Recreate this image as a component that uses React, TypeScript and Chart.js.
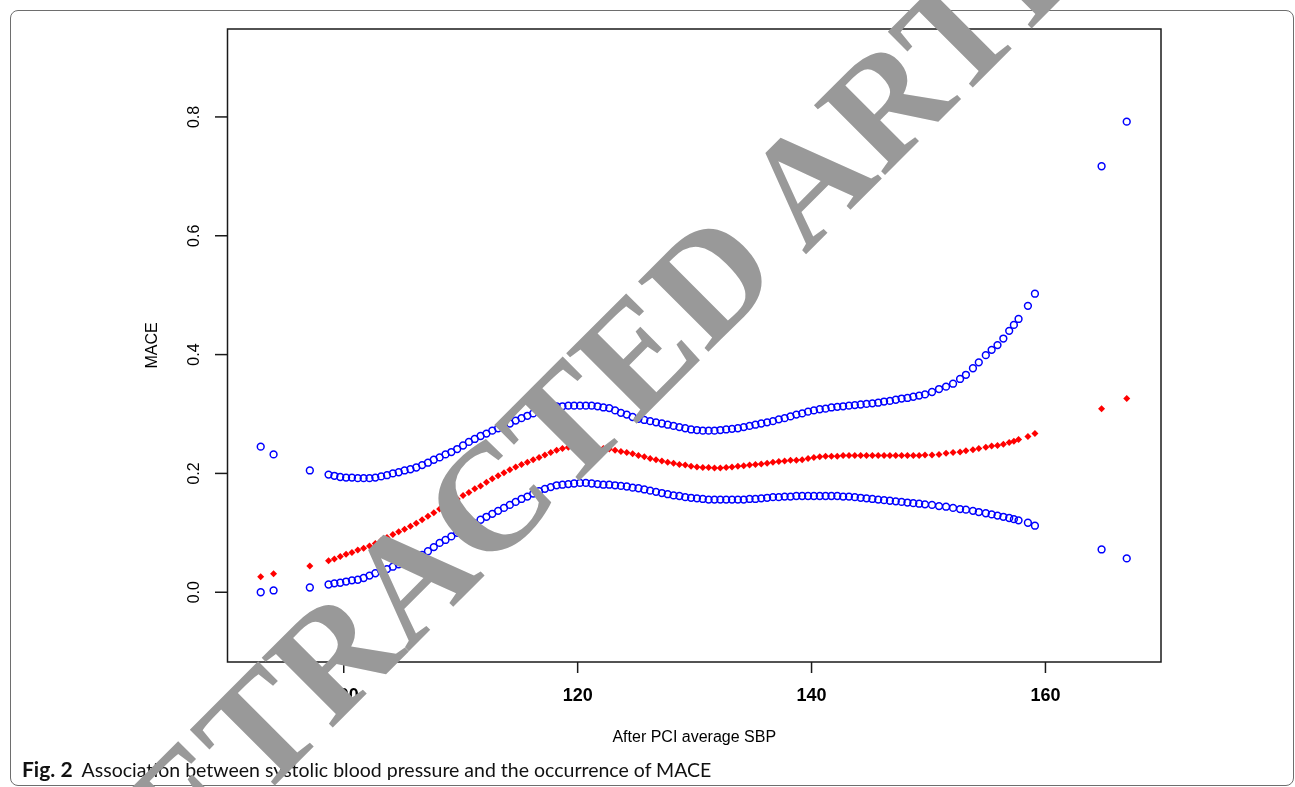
import React, { useEffect, useRef } from "react";
import { Chart, registerables } from "chart.js";

Chart.register(...registerables);

// ---- data ----
const SBP = [
  92.9, 94.0, 97.1,
  98.7, 99.2, 99.7, 100.2, 100.7, 101.2, 101.7, 102.2, 102.7, 103.2,
  103.7, 104.2, 104.7, 105.2, 105.7, 106.2, 106.7, 107.2, 107.7, 108.2,
  108.7, 109.2, 109.7, 110.2, 110.7, 111.2, 111.7, 112.2, 112.7, 113.2,
  113.7, 114.2, 114.7, 115.2, 115.7, 116.2, 116.7, 117.2, 117.7, 118.2,
  118.7, 119.2, 119.7, 120.2, 120.7, 121.2, 121.7, 122.2, 122.7, 123.2,
  123.7, 124.2, 124.7, 125.2, 125.7, 126.2, 126.7, 127.2, 127.7, 128.2,
  128.7, 129.2, 129.7, 130.2, 130.7, 131.2, 131.7, 132.2, 132.7, 133.2,
  133.7, 134.2, 134.7, 135.2, 135.7, 136.2, 136.7, 137.2, 137.7, 138.2,
  138.7, 139.2, 139.7, 140.2, 140.7, 141.2, 141.7, 142.2, 142.7, 143.2,
  143.7, 144.2, 144.7, 145.2, 145.7, 146.2, 146.7, 147.2, 147.7, 148.2,
  148.7, 149.2, 149.7,
  150.3, 150.9, 151.5, 152.1, 152.7, 153.2, 153.8, 154.3, 154.9, 155.4,
  155.9, 156.4, 156.9, 157.3, 157.7, 158.5, 159.1,
  164.8, 166.95,
];

const UPPER = [
  0.245, 0.232, 0.205,
  0.198, 0.196, 0.194, 0.193, 0.193, 0.192, 0.192, 0.192, 0.193, 0.195,
  0.197, 0.200, 0.202, 0.205, 0.207, 0.210, 0.214, 0.218, 0.223, 0.227,
  0.232, 0.236, 0.241, 0.247, 0.253, 0.258, 0.263, 0.267, 0.272, 0.276,
  0.280, 0.284, 0.289, 0.293, 0.297, 0.301, 0.305, 0.308, 0.311, 0.313,
  0.313, 0.314, 0.314, 0.314, 0.314, 0.314, 0.313, 0.311, 0.310, 0.306,
  0.302, 0.299, 0.295, 0.292, 0.290, 0.288, 0.286, 0.284, 0.282, 0.280,
  0.278, 0.276, 0.274, 0.273, 0.272, 0.272, 0.272, 0.273, 0.274, 0.275,
  0.276, 0.278, 0.280, 0.282, 0.284, 0.286, 0.288, 0.291, 0.293, 0.296,
  0.299, 0.301, 0.304, 0.306, 0.308, 0.309, 0.311, 0.312, 0.313, 0.314,
  0.315, 0.316, 0.317, 0.318, 0.319, 0.321, 0.322, 0.324, 0.326, 0.327,
  0.329, 0.331, 0.333,
  0.337, 0.342, 0.346, 0.351, 0.359, 0.366, 0.377, 0.387, 0.399, 0.408,
  0.416, 0.427, 0.440, 0.450, 0.460, 0.482, 0.5025,
  0.717, 0.792,
];

const FIT = [
  0.026, 0.031, 0.044,
  0.053, 0.056, 0.060, 0.064, 0.067, 0.071, 0.074, 0.078, 0.082, 0.087,
  0.092, 0.097, 0.102, 0.106, 0.111, 0.116, 0.122, 0.128, 0.134, 0.140,
  0.146, 0.152, 0.157, 0.163, 0.168, 0.174, 0.179, 0.185, 0.191, 0.196,
  0.201, 0.206, 0.211, 0.215, 0.219, 0.223, 0.227, 0.231, 0.235, 0.239,
  0.242, 0.244, 0.245, 0.245, 0.244, 0.244, 0.243, 0.242, 0.241, 0.239,
  0.237, 0.235, 0.233, 0.230, 0.228, 0.225, 0.223, 0.221, 0.219, 0.217,
  0.215, 0.214, 0.212, 0.211, 0.210, 0.210, 0.209, 0.209, 0.210, 0.211,
  0.212, 0.213, 0.214, 0.215, 0.216, 0.217, 0.219, 0.220, 0.221, 0.222,
  0.222, 0.223, 0.225, 0.227, 0.228, 0.229, 0.229, 0.229, 0.230, 0.230,
  0.230, 0.230, 0.230, 0.230, 0.230, 0.230, 0.230, 0.230, 0.230, 0.230,
  0.230, 0.230, 0.231,
  0.231, 0.232, 0.234, 0.235, 0.236, 0.238, 0.240, 0.242, 0.244, 0.246,
  0.247, 0.249, 0.252, 0.254, 0.257, 0.262, 0.267,
  0.309, 0.326,
];

const LOWER = [
  0.000, 0.003, 0.008,
  0.013, 0.015, 0.016, 0.018, 0.020, 0.021, 0.024, 0.028, 0.032, 0.036,
  0.039, 0.043, 0.047, 0.050, 0.054, 0.058, 0.063, 0.069, 0.076, 0.083,
  0.088, 0.094, 0.100, 0.105, 0.111, 0.116, 0.122, 0.127, 0.132, 0.137,
  0.142, 0.147, 0.152, 0.157, 0.161, 0.166, 0.170, 0.174, 0.177, 0.180,
  0.181, 0.182, 0.183, 0.184, 0.184, 0.183, 0.182, 0.181, 0.181, 0.180,
  0.179, 0.178, 0.176, 0.175, 0.173, 0.171, 0.169, 0.167, 0.165, 0.163,
  0.162, 0.160, 0.159, 0.158, 0.157, 0.156, 0.156, 0.156, 0.156, 0.156,
  0.156, 0.156, 0.157, 0.157, 0.158, 0.159, 0.160, 0.160, 0.161, 0.161,
  0.162, 0.162, 0.162, 0.162, 0.162, 0.162, 0.162, 0.162, 0.161, 0.161,
  0.160, 0.159, 0.158, 0.157, 0.156, 0.155, 0.154, 0.153, 0.152, 0.151,
  0.150, 0.149, 0.148,
  0.147, 0.145, 0.144, 0.142, 0.140, 0.139, 0.137, 0.135, 0.133, 0.131,
  0.129, 0.127, 0.125, 0.123, 0.121, 0.117, 0.112,
  0.072, 0.057,
];

const X_TICKS = [100, 120, 140, 160];
const Y_TICKS = [0.0, 0.2, 0.4, 0.6, 0.8];
const X_RANGE = [90.06, 169.88];
const Y_RANGE = [-0.1174, 0.948];
const X_TITLE = "After PCI average SBP";
const Y_TITLE = "MACE";
const FIG_LABEL = "Fig. 2";
const FIG_CAPTION = "Association between systolic blood pressure and the occurrence of MACE";
const WATERMARK = "RETRACTED ARTICLE";

const W = 1295;
const H = 787;

export default function App() {
  const canvasRef = useRef<HTMLCanvasElement | null>(null);

  useEffect(() => {
    const canvas = canvasRef.current;
    if (!canvas) return;
    const pts = (ys: number[]) => SBP.map((x, i) => ({ x, y: ys[i] }));

    const rAxes = {
      id: "rAxes",
      afterDraw(chart: any) {
        const { ctx, chartArea: a, scales } = chart;
        const xs = scales.x;
        const ys = scales.y;
        ctx.save();
        ctx.strokeStyle = "#1a1a1a";
        ctx.lineWidth = 1.5;
        ctx.strokeRect(a.left, a.top, a.right - a.left, a.bottom - a.top);
        ctx.fillStyle = "#000";
        ctx.textAlign = "center";
        ctx.textBaseline = "middle";
        ctx.font = 'bold 18px "Liberation Sans", Arial, sans-serif';
        for (const v of X_TICKS) {
          const px = xs.getPixelForValue(v);
          ctx.beginPath();
          ctx.moveTo(px, a.bottom);
          ctx.lineTo(px, a.bottom + 11);
          ctx.stroke();
          ctx.fillText(String(v), px, a.bottom + 34);
        }
        ctx.font = '16px "Liberation Sans", Arial, sans-serif';
        for (const v of Y_TICKS) {
          const py = ys.getPixelForValue(v);
          ctx.beginPath();
          ctx.moveTo(a.left - 12.5, py);
          ctx.lineTo(a.left, py);
          ctx.stroke();
          ctx.save();
          ctx.translate(a.left - 33, py);
          ctx.rotate(-Math.PI / 2);
          ctx.fillText(v.toFixed(1), 0, 0);
          ctx.restore();
        }
        ctx.font = '16px "Liberation Sans", Arial, sans-serif';
        ctx.fillText(X_TITLE, (a.left + a.right) / 2, a.bottom + 76);
        ctx.save();
        ctx.translate(a.left - 75, (a.top + a.bottom) / 2);
        ctx.rotate(-Math.PI / 2);
        ctx.fillText(Y_TITLE, 0, 0);
        ctx.restore();
        ctx.restore();
      },
    };

    const chart = new Chart(canvas, {
      type: "scatter",
      data: {
        datasets: [
          {
            label: "upper",
            data: pts(UPPER),
            pointStyle: "circle",
            pointRadius: 3.4,
            pointBorderWidth: 1.5,
            borderColor: "#0000ff",
            backgroundColor: "rgba(0,0,0,0)",
          },
          {
            label: "fit",
            data: pts(FIT),
            pointStyle: "rectRot",
            pointRadius: 3.5,
            pointBorderWidth: 0,
            borderColor: "#ff0000",
            backgroundColor: "#ff0000",
          },
          {
            label: "lower",
            data: pts(LOWER),
            pointStyle: "circle",
            pointRadius: 3.4,
            pointBorderWidth: 1.5,
            borderColor: "#0000ff",
            backgroundColor: "rgba(0,0,0,0)",
          },
        ],
      },
      options: {
        responsive: false,
        animation: false,
        events: [],
        layout: { padding: { left: 227.5, top: 29, right: W - 1161, bottom: H - 662 } },
        scales: {
          x: { type: "linear", min: X_RANGE[0], max: X_RANGE[1], display: false },
          y: { type: "linear", min: Y_RANGE[0], max: Y_RANGE[1], display: false },
        },
        plugins: { legend: { display: false }, tooltip: { enabled: false } },
      },
      plugins: [rAxes],
    } as any);

    return () => chart.destroy();
  }, []);

  return (
    <div
      style={{
        position: "absolute",
        left: 0,
        top: 0,
        width: W,
        height: H,
        overflow: "hidden",
        background: "#fff",
      }}
    >
      <div
        style={{
          position: "absolute",
          left: 10,
          top: 10,
          width: 1284,
          height: 776,
          boxSizing: "border-box",
          border: "1.5px solid #6e6e6e",
          borderRadius: 8,
        }}
      />
      <canvas
        ref={canvasRef}
        width={W}
        height={H}
        style={{ position: "absolute", left: 0, top: 0, width: W, height: H }}
      />
      <div
        style={{
          position: "absolute",
          left: 22,
          top: 758,
          fontFamily: "Lato, 'Open Sans', sans-serif",
          fontSize: 19.5,
          lineHeight: "22px",
          color: "#111",
          whiteSpace: "nowrap",
        }}
      >
        <span style={{ fontWeight: 700, fontSize: 21 }}>{FIG_LABEL}</span>
        <span style={{ marginLeft: 9 }}>{FIG_CAPTION}</span>
      </div>
      <div
        style={{
          position: "absolute",
          left: 664,
          top: 324,
          transform: "translate(-50%, -50%) rotate(-45deg)",
          fontFamily: "'Liberation Serif', 'DejaVu Serif', serif",
          fontWeight: 700,
          fontSize: 152,
          lineHeight: 1,
          color: "#999999",
          whiteSpace: "nowrap",
          pointerEvents: "none",
        }}
      >
        {WATERMARK}
      </div>
    </div>
  );
}
